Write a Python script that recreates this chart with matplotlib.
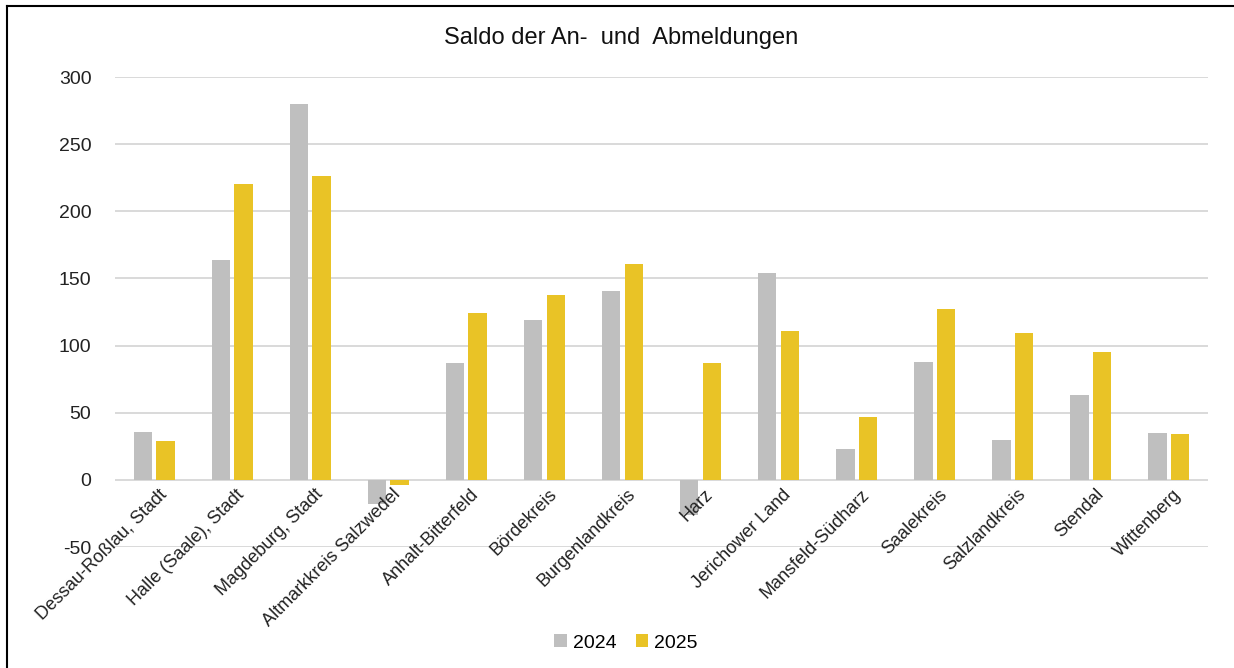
import matplotlib
matplotlib.use("Agg")
import matplotlib.pyplot as plt
import matplotlib.transforms as mtransforms
from matplotlib.lines import Line2D
import numpy as np

plt.rcParams['font.family'] = ['Liberation Sans', 'DejaVu Sans']
plt.rcParams['axes.unicode_minus'] = False

categories = ["Dessau-Roßlau, Stadt", "Halle (Saale), Stadt", "Magdeburg, Stadt",
              "Altmarkkreis Salzwedel", "Anhalt-Bitterfeld", "Bördekreis",
              "Burgenlandkreis", "Harz", "Jerichower Land", "Mansfeld-Südharz",
              "Saalekreis", "Salzlandkreis", "Stendal", "Wittenberg"]
values_2024 = [36, 164, 280, -18, 87, 119, 141, -26, 154, 23, 88, 30, 63, 35]
values_2025 = [29, 220, 226, -4, 124, 138, 161, 87, 111, 47, 127, 109, 95, 34]
series_labels = ["2024", "2025"]
yticks = [-50, 0, 50, 100, 150, 200, 250, 300]

col_2024 = "#BFBFBF"
col_2025 = "#E9C326"

W, H = 1234, 668
fig = plt.figure(figsize=(W / 100, H / 100), dpi=100)
ax = fig.add_axes([115 / W, 1 - 547 / H, (1208 - 115) / W, (547 - 77) / H])

x = np.arange(len(categories))
bw = 0.235
off = 0.145
ax.bar(x - off, values_2024, bw, color=col_2024, label=series_labels[0], zorder=3)
ax.bar(x + off, values_2025, bw, color=col_2025, label=series_labels[1], zorder=3)

ax.set_xlim(-0.5, len(categories) - 0.5)
ax.set_ylim(-50, 300)
ax.set_yticks(yticks)
ax.yaxis.grid(True, color="#D9D9D9", linewidth=1.4, zorder=0)
ax.set_axisbelow(True)
for s in ax.spines.values():
    s.set_visible(False)
ax.tick_params(axis='y', length=0, labelsize=14, pad=17, colors='#222222')
ax.set_xticks([])

offset = mtransforms.ScaledTranslation(4 / 100, -6 / 100, fig.dpi_scale_trans)
for i, c in enumerate(categories):
    ax.text(i, 0, c, rotation=45, rotation_mode='anchor', ha='right', va='top',
            fontsize=13, color='#222222', transform=ax.transData + offset,
            clip_on=False)

fig.text(621 / W, 1 - 38 / H, "Saldo der An-  und  Abmeldungen", ha='center', va='center',
         fontsize=17, color='#111111')

leg = fig.legend(loc='center', bbox_to_anchor=(626 / W, 1 - 643 / H), ncol=2,
                 frameon=False, fontsize=14, handlelength=0.65, handleheight=0.65,
                 handletextpad=0.3, columnspacing=1.0)

# outer border (left and top)
fig.add_artist(Line2D([7 / W, 7 / W], [0, 1 - 6 / H], color='black', linewidth=1.5,
                      transform=fig.transFigure))
fig.add_artist(Line2D([7 / W, 1], [1 - 6 / H, 1 - 6 / H], color='black', linewidth=1.5,
                      transform=fig.transFigure))

fig.savefig("out.png", dpi=100, facecolor='white')
